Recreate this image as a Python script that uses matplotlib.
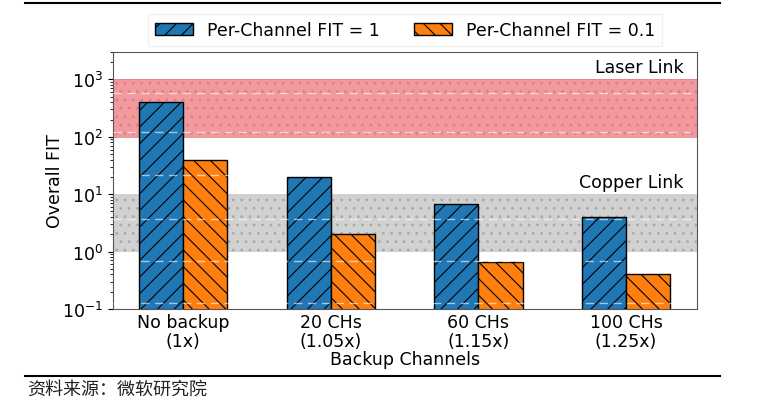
import matplotlib.pyplot as plt
import numpy as np

categories = ['No backup\n(1x)', '20 CHs\n(1.05x)', '60 CHs\n(1.15x)', '100 CHs\n(1.25x)']
fit_1 = [400, 20, 6.67, 4]
fit_01 = [40, 2, 0.667, 0.4]
series_names = ['Per-Channel FIT = 1', 'Per-Channel FIT = 0.1']
laser_band = (100, 1000)
copper_band = (1, 10)
source_text = '资料来源：微软研究院'

fs = 12.5
plt.rcParams['hatch.linewidth'] = 0.8
fig = plt.figure(figsize=(7.58, 4.10), dpi=100)
ax = fig.add_axes([113 / 758, 1 - 310 / 410, (697 - 113) / 758, (310 - 53) / 410])

x = np.arange(len(categories))
w = 0.3

# link bands
ax.axhspan(*laser_band, facecolor=(0.95, 0.6, 0.62, 1), edgecolor='#d98088', hatch='..', lw=0, zorder=0)
ax.axhspan(*copper_band, facecolor=(0.82, 0.82, 0.82, 1), edgecolor='#aaaaaa', hatch='..', lw=0, zorder=0)
ax.axhline(laser_band[0], color='#d88', lw=0.6, zorder=0)
ax.axhline(laser_band[1], color='#d88', lw=0.6, zorder=0)

b1 = ax.bar(x - w / 2, fit_1, w, color='#1f77b4', edgecolor='black', hatch='//', lw=1, zorder=2)
b2 = ax.bar(x + w / 2, fit_01, w, color='#ff7f0e', edgecolor='black', hatch='\\\\', lw=1, zorder=2)

# faint white dashed lines
for v in 10 ** np.array([2.77, 2.08, 1.33, 0.57, -0.17, -0.9]):
    ax.axhline(v, color='white', ls='--', lw=1, alpha=0.6, dashes=(6, 4), zorder=3)

ax.set_yscale('log')
ax.set_ylim(0.1, 3000)
ax.set_xlim(-0.475, 3.48)
ax.set_xticks(x)
ax.set_xticklabels(categories, fontsize=fs, linespacing=1.05)
ax.tick_params(axis='x', length=0, pad=3)
ax.tick_params(axis='y', labelsize=fs)
ax.set_ylabel('Overall FIT', fontsize=fs)
ax.yaxis.set_label_coords(-0.084, 0.5)
ax.set_xlabel('Backup Channels', fontsize=fs, labelpad=0)
for s in ax.spines.values():
    s.set_color('#555555')

ax.text(3.39, 1150, 'Laser Link', ha='right', va='bottom', fontsize=fs)
ax.text(3.39, 11.5, 'Copper Link', ha='right', va='bottom', fontsize=fs)

fig.legend([b1, b2], series_names, ncol=2, loc='center', bbox_to_anchor=(405 / 758, 1 - 31 / 410),
           fontsize=fs, frameon=True, edgecolor='#eeeeee', handlelength=2.2, columnspacing=2.0, fancybox=False)

fig.add_artist(plt.Line2D([25 / 758, 720 / 758], [1 - 4 / 410, 1 - 4 / 410], color='black', lw=1.5))
fig.add_artist(plt.Line2D([25 / 758, 720 / 758], [1 - 377 / 410, 1 - 377 / 410], color='black', lw=1.5))
fig.text(27 / 758, 1 - 390 / 410, source_text, fontsize=13, va='center',
         family=['Noto Sans CJK SC', 'DejaVu Sans'], color='#222222')

fig.savefig('out.png', dpi=100)
